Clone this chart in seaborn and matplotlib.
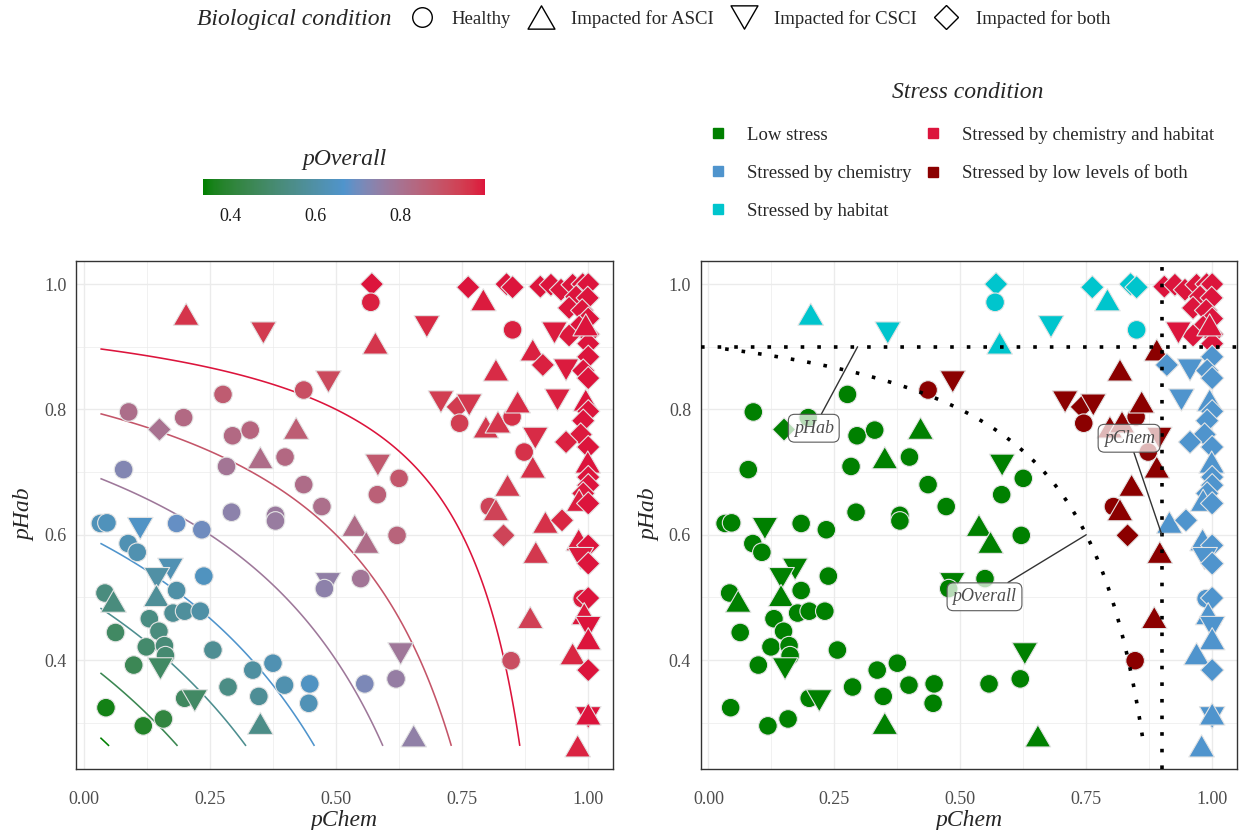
import numpy as np
import pandas as pd
import matplotlib.pyplot as plt
import seaborn as sns
from matplotlib.colors import ListedColormap, Normalize
from matplotlib.cm import ScalarMappable
from matplotlib.lines import Line2D
from matplotlib.path import Path

# site values (pChem, pHab, biological condition)
pchem = [
    0.089, 0.198, 0.150, 0.276, 0.295, 0.330, 0.421, 0.350, 0.399, 0.079,
    0.283, 0.436, 0.472, 0.583, 0.625, 0.582, 0.293, 0.380, 0.380, 0.537,
    0.560, 0.621, 0.033, 0.046, 0.112, 0.184, 0.234, 0.088, 0.106, 0.238,
    0.172, 0.145, 0.144, 0.184, 0.042, 0.059, 0.130, 0.177, 0.200, 0.231,
    0.063, 0.149, 0.124, 0.160, 0.162, 0.256, 0.099, 0.152, 0.044, 0.118,
    0.158, 0.200, 0.220, 0.286, 0.335, 0.375, 0.347, 0.398, 0.448, 0.446,
    0.350, 0.484, 0.477, 0.549, 0.557, 0.628, 0.619, 0.654,
    0.436, 0.485, 0.708, 0.741, 0.764, 0.745, 0.797, 0.821, 0.849, 0.860,
    0.817, 0.890, 0.873, 0.895, 0.890, 0.840, 0.804, 0.817, 0.832, 0.896,
    0.885, 0.847,
    0.203, 0.356, 0.571, 0.569, 0.578, 0.680, 0.762, 0.792, 0.838, 0.850,
    0.850,
    0.905, 0.926, 0.946, 0.969, 0.989, 1.000, 0.976, 0.999, 0.962, 0.988,
    1.000, 0.982, 1.000, 0.962, 1.000, 0.933, 0.995,
    0.910, 0.956, 0.939, 1.000, 0.990, 1.000, 0.995, 1.000, 0.990, 0.985,
    0.956, 1.000, 0.999, 1.000, 1.000, 0.990, 0.982, 1.000, 0.915, 0.948,
    0.981, 1.000, 0.985, 1.000, 0.988, 1.000, 0.992, 1.000, 1.000, 0.969,
    1.000, 1.000, 1.000, 0.979,
]
phab = [
    0.796, 0.787, 0.768, 0.824, 0.758, 0.767, 0.770, 0.723, 0.724, 0.704,
    0.709, 0.680, 0.645, 0.711, 0.690, 0.664, 0.636, 0.631, 0.622, 0.615,
    0.588, 0.599, 0.618, 0.619, 0.610, 0.618, 0.608, 0.586, 0.572, 0.534,
    0.545, 0.530, 0.503, 0.511, 0.507, 0.494, 0.466, 0.475, 0.478, 0.478,
    0.444, 0.446, 0.421, 0.423, 0.407, 0.416, 0.392, 0.386, 0.324, 0.295,
    0.306, 0.339, 0.335, 0.357, 0.384, 0.395, 0.342, 0.360, 0.362, 0.331,
    0.299, 0.522, 0.514, 0.530, 0.362, 0.410, 0.370, 0.279,
    0.831, 0.844, 0.812, 0.804, 0.807, 0.778, 0.772, 0.780, 0.788, 0.812,
    0.863, 0.895, 0.732, 0.754, 0.708, 0.679, 0.645, 0.640, 0.599, 0.572,
    0.468, 0.399,
    0.952, 0.922, 1.000, 0.971, 0.906, 0.932, 0.995, 0.975, 1.000, 0.995,
    0.927,
    0.996, 0.999, 0.991, 0.999, 1.000, 1.000, 0.980, 0.978, 0.962, 0.958,
    0.945, 0.932, 0.920, 0.918, 0.905, 0.922, 0.935,
    0.871, 0.863, 0.815, 0.884, 0.862, 0.850, 0.815, 0.797, 0.782, 0.760,
    0.748, 0.740, 0.716, 0.692, 0.679, 0.666, 0.655, 0.650, 0.620, 0.623,
    0.592, 0.583, 0.562, 0.554, 0.498, 0.499, 0.474, 0.452, 0.434, 0.410,
    0.384, 0.308, 0.314, 0.263,
]
bio = list(
    "HHBHHHAAHH" "HHHCHHHHHA" "AHHHCHHHHH" "CCAHHAHHHH" "HHHHHHHCHH"
    "HHCHHHHHHH" "ACHHHCHA"
    "HCCBCHAAHA" "AAHCAAHABA" "AH"
    "ACBHACBABB" "H"
    "BBBBBBBBBB" "BBBBBCA"
    "BCCBBBABBB" "BBABBBABAB" "ABCBHBACAA" "BCAA"
)
contour_levels = [0.3, 0.4, 0.5, 0.6, 0.7, 0.8, 0.9]

BIO_LEVELS = ["H", "A", "C", "B"]
BIO_NAMES = ["Healthy", "Impacted for ASCI", "Impacted for CSCI", "Impacted for both"]
STRESS_LEVELS = ["Low stress", "Stressed by chemistry", "Stressed by habitat",
                 "Stressed by chemistry and habitat", "Stressed by low levels of both"]
STRESS_COLORS = ["#008000", "#4F94CD", "#00C5CD", "#DC143C", "#8B0000"]
GRADIENT = ["#008000", "#4F94CD", "#DC143C"]
THRESH = 0.9

df = pd.DataFrame({"pchem": pchem, "phab": phab, "bio": bio})
df["poverall"] = 1 - (1 - df["pchem"]) * (1 - df["phab"])


def stress_class(r):
    if r.pchem > THRESH and r.phab > THRESH:
        return STRESS_LEVELS[3]
    if r.pchem > THRESH:
        return STRESS_LEVELS[1]
    if r.phab > THRESH:
        return STRESS_LEVELS[2]
    if r.poverall > THRESH:
        return STRESS_LEVELS[4]
    return STRESS_LEVELS[0]


df["stress"] = df.apply(stress_class, axis=1)


# gradient interpolated in CIELAB, like ggplot's gradientn
M = np.array([[0.4124, 0.3576, 0.1805], [0.2126, 0.7152, 0.0722], [0.0193, 0.1192, 0.9505]])
WHITE = np.array([0.95047, 1.0, 1.08883])


def to_lab(h):
    c = np.array([int(h[i:i + 2], 16) for i in (1, 3, 5)]) / 255
    c = np.where(c > 0.04045, ((c + 0.055) / 1.055) ** 2.4, c / 12.92)
    xyz = M @ c / WHITE
    f = np.where(xyz > 0.008856, np.cbrt(xyz), 7.787 * xyz + 16 / 116)
    return np.array([116 * f[1] - 16, 500 * (f[0] - f[1]), 200 * (f[1] - f[2])])


def from_lab(lab):
    fy = (lab[0] + 16) / 116
    f = np.array([fy + lab[1] / 500, fy, fy - lab[2] / 200])
    xyz = np.where(f ** 3 > 0.008856, f ** 3, (f - 16 / 116) / 7.787) * WHITE
    c = np.linalg.solve(M, xyz)
    c = np.where(c > 0.0031308, 1.055 * np.clip(c, 0, None) ** (1 / 2.4) - 0.055, 12.92 * c)
    return np.clip(c, 0, 1)


labs = [to_lab(h) for h in GRADIENT]
ramp = []
for t in np.linspace(0, 1, 256):
    k = min(int(t * 2), 1)
    u = t * 2 - k
    ramp.append(from_lab(labs[k] * (1 - u) + labs[k + 1] * u))
cmap = ListedColormap(ramp, name="poverall")
norm = Normalize(vmin=0.337, vmax=1.0)
line_norm = Normalize(vmin=min(contour_levels), vmax=max(contour_levels))

# markers: triangles centred on their bounding box
tri_up = Path([(0, 0.866), (-1, -0.866), (1, -0.866), (0, 0.866)], closed=True)
tri_dn = Path([(0, -0.866), (-1, 0.866), (1, 0.866), (0, -0.866)], closed=True)
MARKERS = {"H": "o", "A": tri_up, "C": tri_dn, "B": "D"}
SIZES = {"H": 180, "A": 340, "C": 340, "B": 141}

sns.set_style("white")
plt.rcParams["font.family"] = ["Liberation Serif", "DejaVu Serif"]

fig = plt.figure(figsize=(12.46, 8.3), dpi=100)
ax1 = fig.add_axes([0.0610, 0.0735, 0.4307, 0.612])
ax2 = fig.add_axes([0.5624, 0.0735, 0.4300, 0.612])

# contour grid over the observed range
gx, gy = np.meshgrid(np.linspace(min(pchem), max(pchem), 400),
                     np.linspace(min(phab), max(phab), 400))
gz = 1 - (1 - gx) * (1 - gy)

ax1.contour(gx, gy, gz, levels=contour_levels, cmap=cmap, norm=line_norm,
            linewidths=1.15, zorder=2)
sns.scatterplot(data=df, x="pchem", y="phab", hue="poverall", palette=cmap,
                hue_norm=norm, style="bio", markers=MARKERS, size="bio",
                sizes=SIZES, edgecolor="#E4E4E4", linewidth=0.8,
                legend=False, ax=ax1, zorder=3)

sns.scatterplot(data=df, x="pchem", y="phab", hue="stress",
                hue_order=STRESS_LEVELS, palette=STRESS_COLORS,
                style="bio", markers=MARKERS, size="bio", sizes=SIZES,
                edgecolor="#E4E4E4", linewidth=0.8, legend=False, ax=ax2, zorder=3)

dots = (0, (1, 3.6))
ax2.axhline(THRESH, color="black", lw=2.6, ls=dots, dash_capstyle="butt", zorder=4)
ax2.axvline(THRESH, color="black", lw=2.6, ls=dots, dash_capstyle="butt", zorder=4)
cs = ax2.contour(gx, gy, gz, levels=[THRESH], colors="black", linewidths=2.6, zorder=4)
cs.set_linestyle(dots)
cs.set_capstyle("butt")

label_box = dict(boxstyle="round,pad=0.3,rounding_size=0.35", fc=(1, 1, 1, 0.72),
                 ec="#5A5A5A", lw=0.8)
seg = dict(arrowstyle="-", color="#333333", lw=1.0, shrinkA=0, shrinkB=0)
for txt, anchor, pos in [("pHab", (0.296, THRESH), (0.209, 0.770)),
                         ("pChem", (THRESH, 0.60), (0.835, 0.754)),
                         ("pOverall", (0.75, 0.60), (0.548, 0.501))]:
    ax2.annotate(txt, xy=anchor, xytext=pos, ha="center", va="center",
                 style="italic", fontsize=13, color="#4D4D4D",
                 bbox=label_box, arrowprops=seg, zorder=5)

xpad = (max(pchem) - min(pchem)) * 0.05
ypad = (max(phab) - min(phab)) * 0.05
for ax in (ax1, ax2):
    ax.set_xlim(min(pchem) - xpad, max(pchem) + xpad)
    ax.set_ylim(min(phab) - ypad, max(phab) + ypad)
    ax.set_xticks([0, 0.25, 0.5, 0.75, 1.0])
    ax.set_xticklabels(["0.00", "0.25", "0.50", "0.75", "1.00"])
    ax.set_yticks([0.4, 0.6, 0.8, 1.0])
    ax.set_yticklabels(["0.4", "0.6", "0.8", "1.0"])
    ax.set_xticks([0.125, 0.375, 0.625, 0.875], minor=True)
    ax.set_yticks([0.3, 0.5, 0.7, 0.9], minor=True)
    ax.grid(which="major", color="#EBEBEB", lw=1.0)
    ax.grid(which="minor", color="#EBEBEB", lw=0.5)
    ax.set_axisbelow(True)
    ax.tick_params(which="major", length=4, width=0.9, color="#333333",
                   labelcolor="#4D4D4D", labelsize=13, pad=3)
    ax.tick_params(axis="x", which="major", pad=12)
    ax.tick_params(which="minor", length=0)
    for sp in ax.spines.values():
        sp.set_color("#333333")
        sp.set_linewidth(1.0)
    ax.set_xlabel("pChem", style="italic", fontsize=17, labelpad=1)
    ax.set_ylabel("pHab", style="italic", fontsize=17, labelpad=6)

# colour bar for pOverall
cax = fig.add_axes([0.1632, 0.765, 0.2261, 0.0189])
cb = fig.colorbar(ScalarMappable(norm=norm, cmap=cmap), cax=cax, orientation="horizontal")
cb.set_ticks([0.4, 0.6, 0.8])
cb.outline.set_visible(False)
cax.tick_params(axis="x", which="both", direction="in", length=3.5, width=0.8,
                color="white", top=True, labelcolor="#1A1A1A", labelsize=13, pad=9)
fig.text(0.2763, 1 - 159 / 830, "pOverall", style="italic", fontsize=17,
         ha="center", va="center")

# biological condition legend (top)
bio_handles = [
    Line2D([], [], marker=MARKERS[k], linestyle="none", markerfacecolor="none",
           markeredgecolor="black", markeredgewidth=1.0,
           markersize=np.sqrt(SIZES[k]) * 1.05)
    for k in BIO_LEVELS
]
fig.text(197 / 1246, 1 - 19 / 830, "Biological condition", style="italic",
         fontsize=17, ha="left", va="center")
fig.legend(bio_handles, BIO_NAMES, loc="center left",
           bbox_to_anchor=(399 / 1246, 1 - 19 / 830), ncol=4, frameon=False,
           fontsize=13.5, handlelength=1.6, handletextpad=0.8, columnspacing=0.8,
           borderaxespad=0)

# stress condition legend
stress_handles = [
    Line2D([], [], marker="s", linestyle="none", markerfacecolor=c,
           markeredgecolor=c, markersize=7.5)
    for c in STRESS_COLORS
]
fig.text(968 / 1246, 1 - 93 / 830, "Stress condition", style="italic",
         fontsize=17, ha="center", va="center")
fig.legend(stress_handles, STRESS_LEVELS, loc="center left",
           bbox_to_anchor=(701 / 1246, 1 - 173 / 830), ncol=2, frameon=False,
           fontsize=13.5, handlelength=1.0, handletextpad=1.05, columnspacing=0.67,
           labelspacing=1.11, borderaxespad=0)

fig.savefig("out.png", dpi=100)
